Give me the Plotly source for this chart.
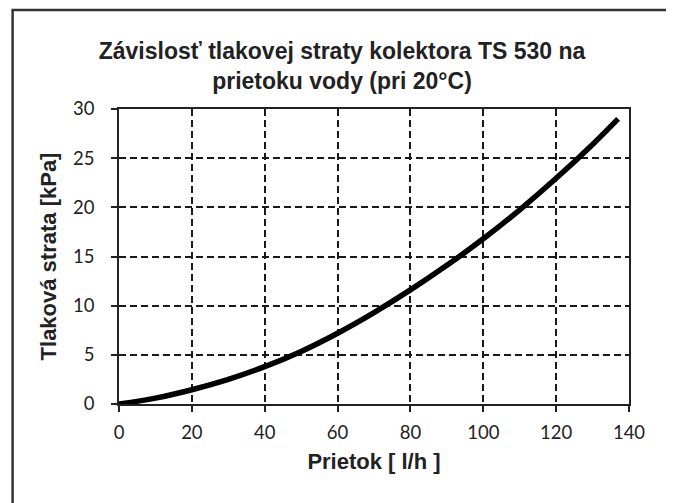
import plotly.graph_objects as go

flow = [0, 10, 20, 30, 40, 50, 60, 70, 80, 90, 100, 110, 120, 130, 137]
loss = [0, 0.6, 1.45, 2.5, 3.8, 5.35, 7.2, 9.3, 11.6, 14.1, 16.8, 19.75, 22.95, 26.4, 29.0]

title_text = "Závislosť tlakovej straty kolektora TS 530 na<br>prietoku vody (pri 20°C)"
x_title = "Prietok [ l/h ]"
y_title = "Tlaková strata [kPa]"

# page body has an 8px margin: figure coordinates are window coordinates minus 8
OFF = 8
W, H = 674 - OFF, 503 - OFF
L, R, T, B = 118.5 - OFF, 629 - OFF, 109 - OFF, 404 - OFF

fig = go.Figure()
fig.add_trace(go.Scatter(x=flow, y=loss, mode="lines",
                         line=dict(color="black", width=5.5, shape="spline", smoothing=1.0),
                         showlegend=False, hoverinfo="skip"))

def px(xp):
    return (xp - OFF - L) / (R - L)

def py(yp):
    return (B - (yp - OFF)) / (B - T)

fig.add_shape(type="rect", xref="paper", yref="paper",
              x0=px(12), x1=px(671), y0=py(507), y1=py(10),
              line=dict(color="#333333", width=2.5), layer="below")

axis_common = dict(
    showgrid=True, gridcolor="#1a1a1a", gridwidth=1.8, griddash="7px,4px",
    showline=True, linecolor="#222222", linewidth=1.6, mirror=True,
    ticks="outside", ticklen=6, tickwidth=1.5, tickcolor="#222222",
    tickfont=dict(family="Lato, Open Sans, sans-serif", size=18.5, color="#222222"),
    zeroline=False,
)
title_font = dict(family="Liberation Sans, Arial", size=22, color="#222222", weight="bold")

fig.update_xaxes(range=[0, 140], tickvals=[0, 20, 40, 60, 80, 100, 120, 140],
                 ticklabelstandoff=5,
                 title=dict(text=x_title, font=title_font, standoff=12),
                 **axis_common)
fig.update_yaxes(range=[0, 30], tickvals=[0, 5, 10, 15, 20, 25, 30],
                 ticklabelstandoff=13,
                 title=dict(text=y_title, font=title_font, standoff=10),
                 **axis_common)

fig.update_layout(
    width=W, height=H,
    margin=dict(l=L, r=W - R, t=T, b=H - B, pad=0),
    paper_bgcolor="white", plot_bgcolor="white",
    title=dict(text=title_text, x=(342 - OFF) / W, xanchor="center",
               y=1 - (59 - OFF) / H, yanchor="middle",
               font=dict(family="Liberation Sans, Arial", size=23, color="#222222", weight="bold")),
)

fig.write_html("out.html")
